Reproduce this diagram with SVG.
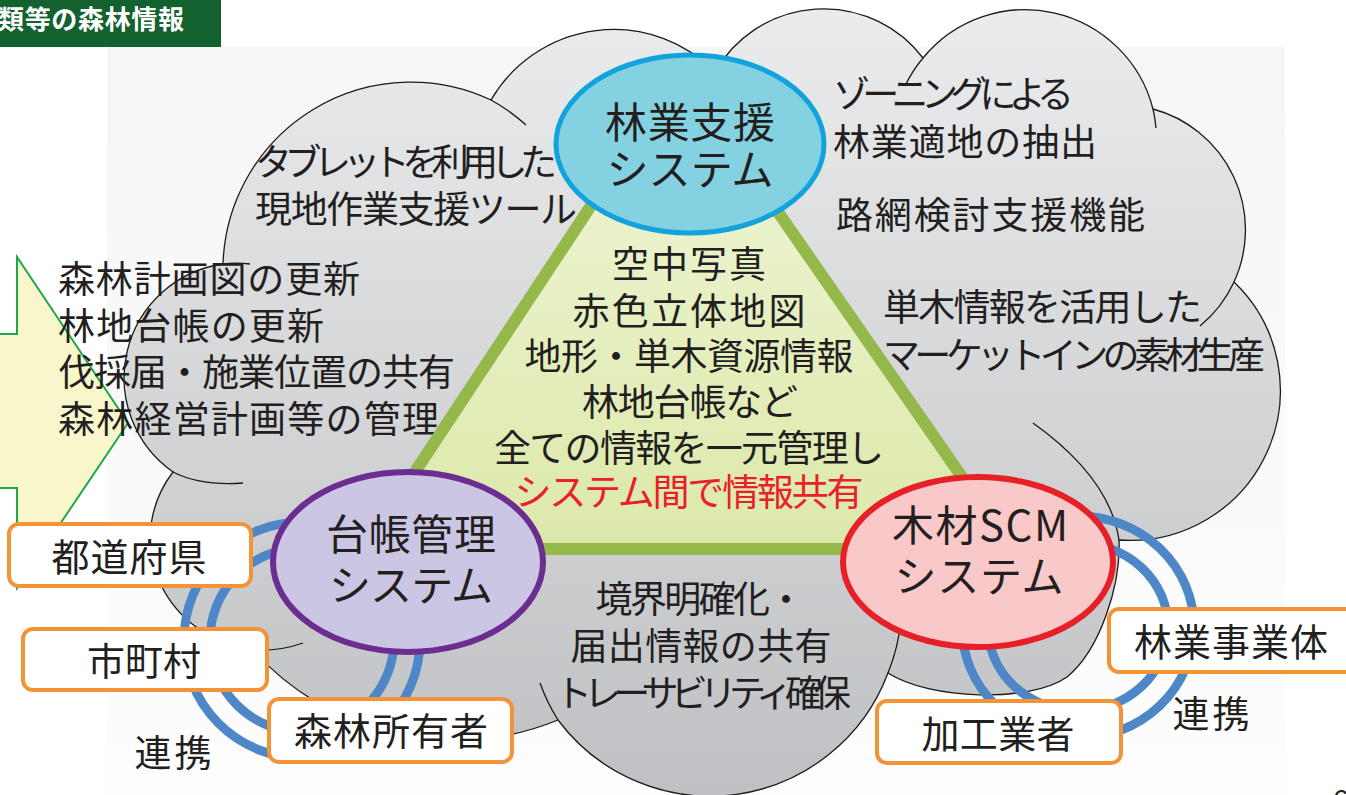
<svg xmlns="http://www.w3.org/2000/svg" width="1346" height="795" viewBox="0 0 1346 795">
<defs>
<linearGradient id="cloudG" gradientUnits="userSpaceOnUse" x1="0" y1="0" x2="0" y2="795">
<stop offset="0" stop-color="#ebeced"/><stop offset="1" stop-color="#bec0c3"/>
</linearGradient>
<linearGradient id="bgG" x1="0" y1="0" x2="0" y2="1">
<stop offset="0" stop-color="#f6f6f6"/><stop offset="1" stop-color="#fdfdfd"/>
</linearGradient>
<linearGradient id="triG" gradientUnits="userSpaceOnUse" x1="0" y1="70" x2="0" y2="550">
<stop offset="0" stop-color="#f1f7db"/><stop offset="1" stop-color="#dce8a9"/>
</linearGradient>
<style>
.t{font-family:"Noto Sans CJK JP","Noto Sans CJK SC","Noto Sans",sans-serif;fill:#231f20;}
.s37{font-size:37px}.s38{font-size:38px}.s42{font-size:42px}
.m{text-anchor:middle}
.cl{fill:none;stroke:#1a1a1a;stroke-width:1.3}
.ring{fill:none;stroke:#4d87c7;stroke-width:9}
.box{fill:#ffffff;stroke:#f39237;stroke-width:4}
</style>
</defs>

<rect x="0" y="0" width="1346" height="795" fill="#ffffff"/>
<rect x="107" y="47" width="1178" height="748" fill="url(#bgG)"/>

<g id="title">
<rect x="0" y="0" width="221" height="47" fill="#146130"/>
<text x="-2" y="29" font-family="'Noto Sans CJK JP',sans-serif" font-size="26" font-weight="bold" fill="#ffffff" textLength="186">類等の森林情報</text>
</g>

<g id="cloud">
<path d="M173,472 A115,115 0 0 1 223,264 A188,188 0 0 1 491,100 A142,142 0 0 1 715,72 A125,125 0 0 1 923,58 A132,132 0 0 1 1153,109 A125,125 0 0 1 1234,282 A150,150 0 0 1 1119,540 C1121,585 1100,650 1067,677 C1030,703 930,700 888,673 A190,190 0 0 1 558,720 A271,271 0 0 1 253,650 A120,113 0 0 1 173,472 Z" fill="url(#cloudG)" stroke="#1a1a1a" stroke-width="1.3"/>
<path class="cl" d="M491,100 A188,188 0 0 1 526,125"/>
<path class="cl" d="M905,86 A132,132 0 0 1 923,58"/>
<path class="cl" d="M1153,109 A132,132 0 0 1 1156,128"/>
<path class="cl" d="M1234,282 A125,125 0 0 1 1200,326"/>
<path class="cl" d="M1033,423 Q1110,478 1119,540"/>
<path class="cl" d="M888,673 A190,190 0 0 0 901,620"/>
<path class="cl" d="M558,720 A190,190 0 0 1 540,683"/>
<path class="cl" d="M253,650 A120,113 0 0 0 303,643"/>
<path class="cl" d="M223,264 A115,115 0 0 1 250,264"/>
<path class="cl" d="M173,472 Q200,486 243,483"/>
</g>

<g id="input-arrow">
<polygon points="-5,334 17,334 17,257 128,423 17,588 17,488 -5,488" fill="#faf6cb" stroke="#1ea84b" stroke-width="2"/>
</g>

<g id="cloud-texts">
<text class="t s37" x="255" y="176" textLength="302">タブレットを利用した</text>
<text class="t s37" x="255" y="223" textLength="322">現地作業支援ツール</text>
<text class="t s37" x="833" y="108" textLength="241">ゾーニングによる</text>
<text class="t s37" x="833" y="156" textLength="264">林業適地の抽出</text>
<text class="t s37" x="836" y="229" textLength="309">路網検討支援機能</text>
<text class="t s37" x="883" y="321" textLength="319">単木情報を活用した</text>
<text class="t s37" x="883" y="369" textLength="382">マーケットインの素材生産</text>
<text class="t s37" x="58" y="293" textLength="302">森林計画図の更新</text>
<text class="t s37" x="58" y="340" textLength="266">林地台帳の更新</text>
<text class="t s37" x="58" y="386" textLength="397">伐採届・施業位置の共有</text>
<text class="t s37" x="58" y="433" textLength="381">森林経営計画等の管理</text>
<text class="t s37 m" x="700" y="613" textLength="209">境界明確化・</text>
<text class="t s37 m" x="701" y="660" textLength="261">届出情報の共有</text>
<text class="t s37 m" x="703" y="707" textLength="296">トレーサビリティ確保</text>
</g>

<g id="connectors">
<circle class="ring" cx="302" cy="640" r="118"/>
<circle class="ring" cx="302" cy="640" r="92"/>
<ellipse class="ring" cx="1078" cy="627" rx="116" ry="111"/>
<ellipse class="ring" cx="1078" cy="627" rx="90" ry="84"/>
</g>

<g id="shared-data">
<polygon points="680,71 1012,549 364,549" fill="url(#triG)" stroke="#94b84a" stroke-width="12" stroke-linejoin="miter"/>
<text class="t s37 m" x="689" y="278" textLength="154">空中写真</text>
<text class="t s37 m" x="689" y="325" textLength="233">赤色立体地図</text>
<text class="t s37 m" x="689" y="370" textLength="329">地形・単木資源情報</text>
<text class="t s37 m" x="690" y="416" textLength="216">林地台帳など</text>
<text class="t s37 m" x="689" y="462" textLength="390">全ての情報を一元管理し</text>
<text class="t s37 m" x="689" y="506" textLength="349" style="fill:#e8202a">システム間で情報共有</text>
</g>

<g id="node-ringyo-shien">
<ellipse cx="690" cy="144" rx="134" ry="89" fill="#84d1e1" stroke="#13a3dc" stroke-width="5"/>
<text class="t s42 m" x="690" y="138" textLength="170">林業支援</text>
<text class="t s42 m" x="690" y="185" textLength="167">システム</text>
</g>

<g id="node-daicho">
<ellipse cx="408" cy="562" rx="135" ry="90" fill="#cbc6e4" stroke="#6b2d90" stroke-width="6"/>
<text class="t s42 m" x="411" y="550" textLength="170">台帳管理</text>
<text class="t s42 m" x="411" y="601" textLength="164">システム</text>
</g>

<g id="node-scm">
<ellipse cx="978" cy="562" rx="135" ry="85" fill="#f9c8c9" stroke="#e71f26" stroke-width="6"/>
<text class="t s42 m" x="980" y="541" textLength="176">木材SCM</text>
<text class="t s42 m" x="979" y="592" textLength="169">システム</text>
</g>

<g id="node-todofuken">
<rect class="box" x="9" y="524" width="242" height="62" rx="10"/>
<text class="t s38 m" x="129" y="571" textLength="155">都道府県</text>
</g>
<g id="node-shichoson">
<rect class="box" x="23" y="629" width="244" height="61" rx="10"/>
<text class="t s38 m" x="144" y="675" textLength="114">市町村</text>
</g>
<g id="node-shinrin-shoyusha">
<rect class="box" x="269" y="699" width="243" height="63" rx="10"/>
<text class="t s38 m" x="391" y="745" textLength="194">森林所有者</text>
</g>
<g id="node-kako">
<rect class="box" x="877" y="701" width="244" height="62" rx="10"/>
<text class="t s38 m" x="998" y="748" textLength="153">加工業者</text>
</g>
<g id="node-ringyo-jigyotai">
<rect class="box" x="1109" y="609" width="250" height="63" rx="10"/>
<text class="t s38 m" x="1231" y="656" textLength="194">林業事業体</text>
</g>

<g id="labels">
<text class="t s37 m" x="173" y="767" textLength="77">連携</text>
<text class="t s37 m" x="1211" y="728" textLength="77">連携</text>
<text x="1333" y="809" font-family="'Liberation Sans',sans-serif" font-size="28" fill="#231f20">6</text>
</g>
</svg>
